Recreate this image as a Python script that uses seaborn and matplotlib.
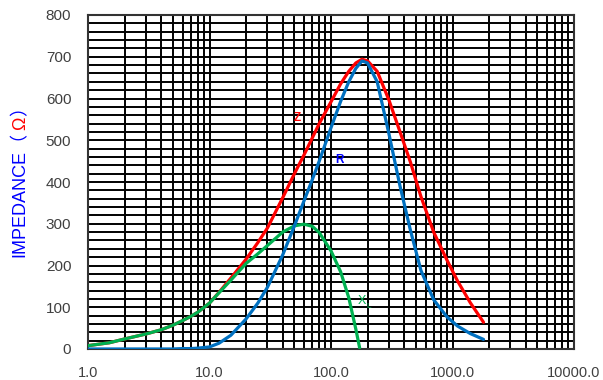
import numpy as np
import pandas as pd
import matplotlib
matplotlib.use("Agg")
import matplotlib.pyplot as plt
import seaborn as sns
from matplotlib.ticker import MultipleLocator, LogLocator, FuncFormatter, NullFormatter

# frequency (MHz) and impedance values
freq = [1, 1.5, 2, 3, 4, 5, 6, 7, 8, 10, 12, 15, 20, 25, 30, 40, 50, 60, 70, 80,
        100, 120, 140, 160, 180, 200, 240, 300, 370, 450, 550, 700, 900, 1100,
        1400, 1800]
z_vals = [8, 15, 24, 36, 46, 57, 68, 78, 88, 110, 136, 170, 215, 255, 290, 362,
          420, 465, 505, 540, 592, 635, 665, 685, 694, 690, 665, 596, 520, 448,
          365, 280, 213, 163, 111, 64]
r_vals = [0, 0, 0, 0, 0, 0, 1, 1, 2, 5, 14, 33, 72, 110, 148, 225, 295, 355,
          405, 450, 530, 593, 640, 672, 690, 685, 640, 515, 390, 285, 188, 118,
          77, 55, 37, 23]

freq_x = [1, 1.5, 2, 3, 4, 5, 6, 7, 8, 10, 12, 15, 20, 25, 30, 40, 50, 60, 70,
          80, 100, 120, 140, 160, 172]
x_vals = [8, 15, 24, 36, 46, 57, 68, 78, 88, 110, 135, 165, 205, 228, 248, 280,
          295, 299, 294, 279, 235, 185, 123, 48, 3]

x_ticks = [1, 10, 100, 1000, 10000]
y_ticks = [0, 100, 200, 300, 400, 500, 600, 700, 800]

df_zr = pd.DataFrame({"freq": freq, "Z": z_vals, "R": r_vals})
df_x = pd.DataFrame({"freq": freq_x, "X": x_vals})

sns.set_style("white")
plt.rcParams["font.family"] = ["Liberation Sans", "DejaVu Sans"]

fig = plt.figure(figsize=(6.03, 3.8), dpi=100)
ax = fig.add_axes([88 / 603, 1 - 349 / 380, (574 - 88) / 603, (349 - 15) / 380])

lw = 2.3
sns.lineplot(data=df_zr, x="freq", y="Z", color="#ff0000", lw=lw, ax=ax, zorder=3)
sns.lineplot(data=df_x, x="freq", y="X", color="#00b050", lw=lw, ax=ax, zorder=4)
sns.lineplot(data=df_zr, x="freq", y="R", color="#0070c0", lw=lw, ax=ax, zorder=5)

ax.set_xscale("log")
ax.set_xlim(1, 10000)
ax.set_ylim(0, 800)
ax.set_xticks(x_ticks)
ax.xaxis.set_major_formatter(FuncFormatter(lambda v, p: f"{v:.1f}"))
ax.xaxis.set_minor_locator(LogLocator(base=10, subs=np.arange(2, 10)))
ax.xaxis.set_minor_formatter(NullFormatter())
ax.set_yticks(y_ticks)
ax.yaxis.set_minor_locator(MultipleLocator(20))

ax.grid(which="both", color="black", lw=1.4)
ax.set_axisbelow(True)
for s in ax.spines.values():
    s.set_color("#333333")
    s.set_linewidth(1.5)

ax.tick_params(which="both", length=0)
ax.tick_params(axis="y", pad=12, labelsize=11, labelcolor="#404040")
ax.tick_params(axis="x", pad=12, labelsize=10.5, labelcolor="#404040")
ax.set_xlabel("")
ax.set_ylabel("")

# curve labels
ax.text(53, 553, "Z", color="#ff0000", fontsize=8.5, fontweight="bold", ha="center", va="center")
ax.text(118, 453, "R", color="#0000ff", fontsize=8.5, fontweight="bold", ha="center", va="center")
ax.text(178, 116, "X", color="#00b050", fontsize=9, ha="center", va="center")
ax.annotate("L", xy=(178, 116), xytext=(3.5, -4), textcoords="offset points",
            color="#00b050", fontsize=6, ha="left", va="center")

# rotated multi-colour y label, pieces laid along a shared baseline
# (each piece starts with a glyph that has a small left bearing)
fam = ["Liberation Sans", "Noto Sans CJK SC", "DejaVu Sans"]
parts = [("IMPEDANCE（", "#0000ff"), ("Ω", "#ff0000"), ("）", "#0000ff")]
fig.canvas.draw()
renderer = fig.canvas.get_renderer()
ypos = 1 - 257 / 380
for txt, col in parts:
    t = fig.text(25 / 603, ypos, txt, rotation=90, rotation_mode="anchor",
                 color=col, fontsize=13, family=fam, ha="left", va="baseline")
    bb = t.get_window_extent(renderer=renderer)
    ypos += (bb.height + 1.5) / fig.bbox.height

fig.savefig("out.png", dpi=100)
